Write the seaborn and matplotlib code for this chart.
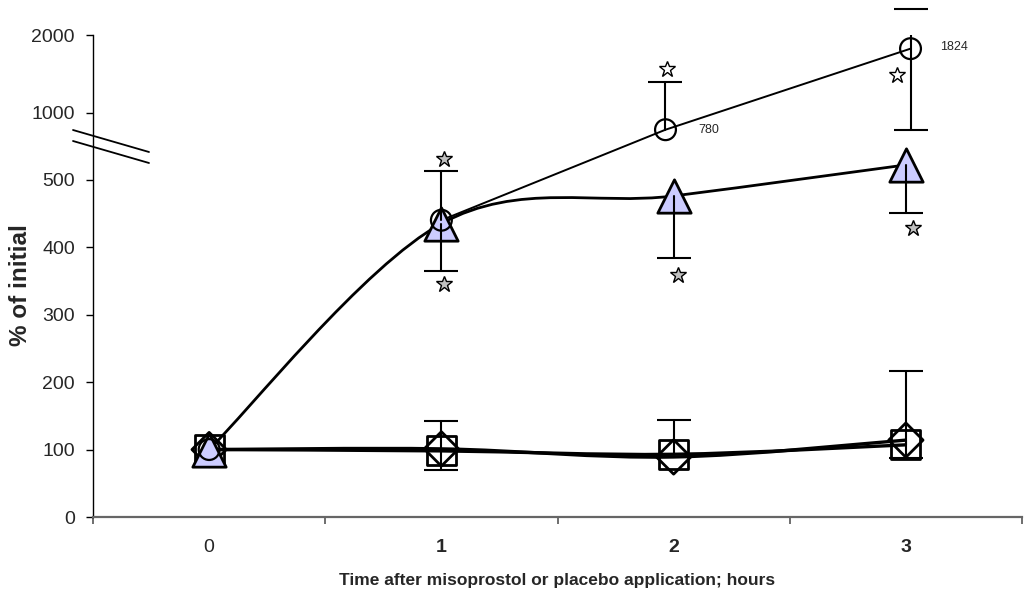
import numpy as np
import matplotlib
matplotlib.use("Agg")
import matplotlib.pyplot as plt
from matplotlib.path import Path
from matplotlib.patches import PathPatch
from matplotlib.lines import Line2D
import seaborn as sns

# ------------------------------
# Data
# ------------------------------
hours = [0, 1, 2, 3]
hour_labels = ["0", "1", "2", "3"]

circle_x = [0, 1, 1.965, 3.02]
circle_y = [100, 440, 780, 1824]
circle_up = [np.nan, 513, 1394, 2335]
circle_lo = [np.nan, np.nan, np.nan, 780]

triangle_y = [100, 435, 476, 522]
triangle_lo = [np.nan, 365, 384, 451]

square_y = [100, 98, 93, 107]
square_up = [np.nan, 142, 144, 217]

diamond_y = [100, 101, 89, 114]
diamond_lo = [np.nan, 70, np.nan, 88]

star_x = [1.01, 1.01, 2.02, 3.03, 1.97, 2.96]
star_y = [531, 346, 359, 429, 1562, 1487]
star_fill = ["#c0c0c0", "#c0c0c0", "#c0c0c0", "#c0c0c0", "white", "white"]

ytick_vals = [0, 100, 200, 300, 400, 500, 1000, 2000]


# ------------------------------
# Broken y axis: linear below the break, compressed above
# ------------------------------
def to_disp(v):
    v = np.asarray(v, dtype=float)
    return np.where(v <= 560, v, 574.2 + (v - 780) * 0.1151)


def smooth_path(x, y):
    # Catmull-Rom style smoothing, like the spreadsheet "smoothed line"
    pts = np.column_stack([x, y])
    n = len(pts)
    verts = [pts[0]]
    codes = [Path.MOVETO]
    for i in range(n - 1):
        p0 = pts[max(i - 1, 0)]
        p1 = pts[i]
        p2 = pts[i + 1]
        p3 = pts[min(i + 2, n - 1)]
        verts += [p1 + (p2 - p0) / 6, p2 - (p3 - p1) / 6, p2]
        codes += [Path.CURVE4] * 3
    return Path(verts, codes)


sns.set_style("white")
plt.rcParams["font.family"] = ["Liberation Sans", "DejaVu Sans"]

fig = plt.figure(figsize=(10.25, 5.91), dpi=100)
ax = fig.add_axes([93 / 1025, 74 / 591, 929 / 1025, 482 / 591])

# ------------------------------
# Lines
# ------------------------------
for ys, lw in [(square_y, 2.4), (diamond_y, 2.4), (triangle_y, 2.0)]:
    ax.add_patch(PathPatch(smooth_path(hours, to_disp(ys)), fill=False,
                           edgecolor="black", lw=lw, zorder=2))
ax.plot(circle_x[1:], to_disp(circle_y[1:]), color="black", lw=1.4, zorder=2)

# ------------------------------
# Markers
# ------------------------------
sns.scatterplot(x=hours, y=to_disp(square_y), marker="s", s=21 ** 2,
                facecolors="none", edgecolor="black", linewidth=2, ax=ax, zorder=3)
sns.scatterplot(x=hours, y=to_disp(diamond_y), marker="D", s=17.5 ** 2,
                facecolors="none", edgecolor="black", linewidth=2, ax=ax, zorder=3)
sns.scatterplot(x=hours, y=to_disp(triangle_y), marker="^", s=24 ** 2,
                facecolors="#ccccff", edgecolor="black", linewidth=2, ax=ax, zorder=4)
sns.scatterplot(x=circle_x, y=to_disp(circle_y), marker="o", s=15 ** 2,
                facecolors="none", edgecolor="black", linewidth=1.6, ax=ax, zorder=5)


# ------------------------------
# One-sided error bars
# ------------------------------
def one_sided(x, y, lo=None, up=None):
    y_d = to_disp(y)
    for i in range(len(x)):
        for v in (lo, up):
            if v is None or np.isnan(v[i]):
                continue
            end = float(to_disp(v[i]))
            ax.plot([x[i], x[i]], [y_d[i], end], color="black", lw=1.5, zorder=6)
            ax.plot([x[i]], [end], marker="_", markersize=25, mew=1.5,
                    color="black", zorder=6, clip_on=False)


one_sided(circle_x, circle_y, lo=circle_lo, up=circle_up)
one_sided(hours, triangle_y, lo=triangle_lo)
one_sided(hours, square_y, up=square_up)
one_sided(hours, diamond_y, lo=diamond_lo)

# significance stars
for sx, sy, fc in zip(star_x, star_y, star_fill):
    ax.plot([sx], to_disp([sy]), marker="*", markersize=12, mfc=fc,
            mec="black", mew=1.0, zorder=7, clip_on=False)

# value labels
ax.annotate("780", (circle_x[2], to_disp(circle_y[2])), xytext=(24, 0),
            textcoords="offset points", ha="left", va="center", fontsize=9)
ax.annotate("1824", (circle_x[3], to_disp(circle_y[3])), xytext=(21, 1),
            textcoords="offset points", ha="left", va="center", fontsize=9)

# ------------------------------
# Axes
# ------------------------------
ax.set_xlim(-0.5, 3.5)
ax.set_ylim(0, float(to_disp(2000)))
ax.set_xticks(hours)
ax.set_xticklabels(hour_labels, fontsize=14)
for lbl in ax.get_xticklabels()[1:]:
    lbl.set_fontweight("bold")
ax.set_xticks([-0.5, 0.5, 1.5, 2.5, 3.5], minor=True)
ax.tick_params(axis="x", which="major", length=0, pad=16)
ax.tick_params(axis="x", which="minor", length=5, width=1.2, color="#555555",
               direction="out", bottom=True)
ax.set_yticks(to_disp(ytick_vals))
ax.set_yticklabels([str(v) for v in ytick_vals], fontsize=14)
ax.tick_params(axis="y", length=5, width=1, color="black", direction="out",
               left=True, pad=8)

for side in ["top", "right"]:
    ax.spines[side].set_visible(False)
ax.spines["left"].set_color("black")
ax.spines["left"].set_linewidth(1.0)
ax.spines["bottom"].set_color("#666666")
ax.spines["bottom"].set_linewidth(1.6)

ax.set_xlabel("Time after misoprostol or placebo application; hours",
              fontsize=12.5, fontweight="bold")
ax.xaxis.set_label_coords(0.5, -0.117)
ax.set_ylabel("% of initial", fontsize=17.5, fontweight="bold")
ax.yaxis.set_label_coords(-0.066, 0.481)

# axis break marks
for y0, y1 in [(130, 152), (141, 163)]:
    fig.add_artist(Line2D([73 / 1025, 149 / 1025], [1 - y0 / 591, 1 - y1 / 591],
                          transform=fig.transFigure, color="black", lw=1.3))

fig.savefig("out.png", dpi=100)
